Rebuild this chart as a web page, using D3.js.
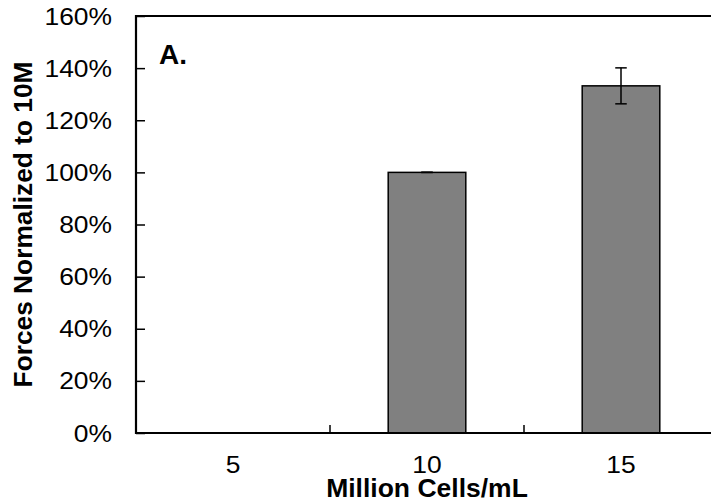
<!DOCTYPE html>
<html>
<head>
  <meta charset='utf-8'>
  <title>Forces Normalized to 10M</title>
  <script src="https://cdnjs.cloudflare.com/ajax/libs/d3/7.8.5/d3.min.js"></script>
  <style>
    html, body {
      margin: 0;
      padding: 0;
      background: #fff;
    }
    svg {
      display: block;
      font-family: 'Liberation Sans', Arial, sans-serif;
    }
  </style>
</head>
<body>
  <svg id="chart"></svg>
  <script>
    // values
    const categories = ["5", "10", "15"];
    const forces = [null, 1.00, 1.332];
    const errors = [null, 0.0, 0.069];
    const yTicks = [0, 0.2, 0.4, 0.6, 0.8, 1.0, 1.2, 1.4, 1.6];

    const width = 711;
    const height = 504;
    const margin = { top: 16, right: -7, bottom: 71, left: 136 };

    const svg = d3.select('#chart')
      .attr('width', width)
      .attr('height', height);

    const innerW = width - margin.left - margin.right;
    const innerH = height - margin.top - margin.bottom;

    const x = d3.scaleBand()
      .domain(categories)
      .range([margin.left, margin.left + innerW])
      .padding(0);

    const y = d3.scaleLinear()
      .domain([0, 1.6])
      .range([margin.top + innerH, margin.top]);

    const data = categories.map((c, i) => ({ c, v: forces[i], e: errors[i] }));
    const barW = x.bandwidth() * 0.4;

    // the source text is a bit wider than its height suggests
    const stretch = 1.1;

    // bars
    svg.append('g')
      .selectAll('rect')
      .data(data.filter(d => d.v != null))
      .join('rect')
      .attr('x', d => x(d.c) + (x.bandwidth() - barW) / 2)
      .attr('y', d => y(d.v))
      .attr('width', barW)
      .attr('height', d => y(0) - y(d.v))
      .attr('fill', '#808080')
      .attr('stroke', '#000')
      .attr('stroke-width', 1.5);

    // error bars
    const capW = 11.5;
    const eb = svg.append('g')
      .attr('stroke', '#000')
      .attr('stroke-width', 1.5)
      .selectAll('g')
      .data(data.filter(d => d.e != null))
      .join('g');
    eb.append('line')
      .attr('x1', d => x(d.c) + x.bandwidth() / 2)
      .attr('x2', d => x(d.c) + x.bandwidth() / 2)
      .attr('y1', d => y(d.v + d.e))
      .attr('y2', d => y(d.v - d.e));
    eb.append('line')
      .attr('x1', d => x(d.c) + x.bandwidth() / 2 - capW / 2)
      .attr('x2', d => x(d.c) + x.bandwidth() / 2 + capW / 2)
      .attr('y1', d => y(d.v + d.e))
      .attr('y2', d => y(d.v + d.e));
    eb.append('line')
      .attr('x1', d => x(d.c) + x.bandwidth() / 2 - capW / 2)
      .attr('x2', d => x(d.c) + x.bandwidth() / 2 + capW / 2)
      .attr('y1', d => y(d.v - d.e))
      .attr('y2', d => y(d.v - d.e));

    // y axis, ticks pointing inside
    const yAxis = svg.append('g')
      .attr('transform', `translate(${margin.left},0)`)
      .call(d3.axisRight(y).tickValues(yTicks).tickSize(9).tickFormat(''));
    yAxis.select('.domain').remove();
    yAxis.selectAll('line').attr('stroke', '#000').attr('stroke-width', 1.5);

    svg.append('g')
      .selectAll('text')
      .data(yTicks)
      .join('text')
      .attr('transform', d => `translate(112,${y(d) + 8.6}) scale(${stretch},1)`)
      .attr('text-anchor', 'end')
      .attr('font-size', 24)
      .text(d => d3.format('.0%')(d));

    // x axis: ticks between categories, pointing up
    const xAxis = svg.append('g')
      .attr('transform', `translate(0,${y(0)})`);
    xAxis.selectAll('line')
      .data(categories.slice(1))
      .join('line')
      .attr('x1', d => x(d))
      .attr('x2', d => x(d))
      .attr('y1', 0)
      .attr('y2', -8)
      .attr('stroke', '#000')
      .attr('stroke-width', 1.5);
    xAxis.selectAll('text')
      .data(categories)
      .join('text')
      .attr('transform', d => `translate(${x(d) + x.bandwidth() / 2},39.5) scale(${stretch},1)`)
      .attr('text-anchor', 'middle')
      .attr('font-size', 24)
      .text(d => d);

    // plot frame: left, bottom, top
    svg.append('path')
      .attr('d', `M${margin.left + innerW},${margin.top} H${margin.left} V${y(0)} H${margin.left + innerW}`)
      .attr('fill', 'none')
      .attr('stroke', '#000')
      .attr('stroke-width', 2.2);

    // panel label
    svg.append('text')
      .attr('x', 159)
      .attr('y', 63.5)
      .attr('font-size', 28)
      .attr('font-weight', 'bold')
      .text('A.');

    // axis titles
    svg.append('text')
      .attr('transform', `translate(${margin.left + innerW / 2},497) scale(1.06,1)`)
      .attr('text-anchor', 'middle')
      .attr('font-size', 25)
      .attr('font-weight', 'bold')
      .text('Million Cells/mL');

    svg.append('text')
      .attr('transform', `translate(32,${margin.top + innerH / 2}) rotate(-90)`)
      .attr('text-anchor', 'middle')
      .attr('font-size', 26.3)
      .attr('font-weight', 'bold')
      .text('Forces Normalized to 10M');
  </script>
</body>
</html>
